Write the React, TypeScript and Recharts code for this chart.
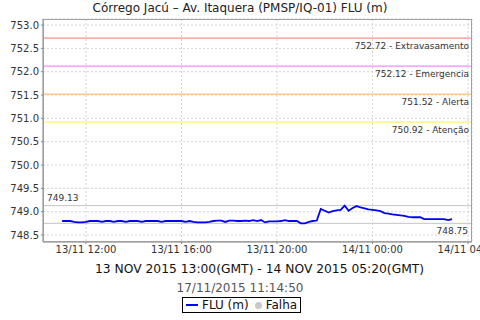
import React from "react";
import { CartesianGrid, Line, LineChart, ReferenceLine, XAxis, YAxis } from "recharts";

// FLU readings every 10 min, from 13/11 11:00 local (13:00 GMT) to 14/11 03:20
const START_HOUR = 11;
const STEP_MIN = 10;
const FLU = [
  748.8, 748.8, 748.8, 748.78, 748.77, 748.77, 748.78, 748.8, 748.8, 748.8,
  748.78, 748.8, 748.8, 748.78, 748.8, 748.8, 748.78, 748.8, 748.8, 748.8,
  748.78, 748.8, 748.8, 748.8, 748.8, 748.78, 748.8, 748.8, 748.8, 748.8,
  748.8, 748.78, 748.8, 748.78, 748.77, 748.77, 748.77, 748.78, 748.8, 748.81,
  748.81, 748.78, 748.81, 748.81, 748.8, 748.8, 748.81, 748.8, 748.82, 748.8,
  748.82, 748.77, 748.79, 748.79, 748.79, 748.8, 748.82, 748.8, 748.8, 748.8,
  748.75, 748.75, 748.78, 748.8, 748.81, 749.06, 749.02, 748.98, 749.01, 749.03,
  749.04, 749.13, 749.02, 749.08, 749.12, 749.09, 749.07, 749.05, 749.04, 749.03,
  749.01, 748.97, 748.96, 748.94, 748.93, 748.92, 748.91, 748.89, 748.88, 748.88,
  748.88, 748.84, 748.84, 748.84, 748.84, 748.84, 748.84, 748.82, 748.84
];

const THRESHOLD_VALUES = [752.72, 752.12, 751.52, 750.92];
const THRESHOLD_NAMES = ["Extravasamento", "Emergencia", "Alerta", "Atenção"];
const THRESHOLD_COLORS = ["#ff8c8c", "#ff88ff", "#ffbf73", "#fff07a"];

const MAX_VALUE = 749.13;
const MIN_VALUE = 748.75;

const X_TICKS = [12, 16, 20, 24, 28];
const Y_TICKS = [748.5, 749.0, 749.5, 750.0, 750.5, 751.0, 751.5, 752.0, 752.5, 753.0];

const FONT = "'DejaVu Sans', sans-serif";

const data = FLU.map((v, i) => ({ t: START_HOUR + (i * STEP_MIN) / 60, flu: v }));

const fmtTime = (h: number) => {
  const day = h >= 24 ? 14 : 13;
  const hh = Math.floor(h % 24);
  return `${day}/11 ${String(hh).padStart(2, "0")}:00`;
};

const thresholdLabel = (text: string) => (props: any) => {
  const vb = props.viewBox || {};
  return (
    <text x={vb.x + vb.width - 3} y={vb.y + 11} textAnchor="end" fontSize={9} fontFamily={FONT} fill="#333">
      {text}
    </text>
  );
};

const maxLabel = (props: any) => {
  const vb = props.viewBox || {};
  return (
    <text x={vb.x + 4} y={vb.y - 5} fontSize={9} fontFamily={FONT} fill="#333">
      {MAX_VALUE.toFixed(2)}
    </text>
  );
};

const minLabel = (props: any) => {
  const vb = props.viewBox || {};
  return (
    <text x={vb.x + vb.width - 4} y={vb.y + 11} textAnchor="end" fontSize={9} fontFamily={FONT} fill="#333">
      {MIN_VALUE.toFixed(2)}
    </text>
  );
};

export default function App() {
  return (
    <div style={{ position: "absolute", left: 0, top: 0, width: 480, height: 320, background: "#fff", fontFamily: FONT }}>
      <div style={{ position: "absolute", top: 0, width: 480, textAlign: "center", fontSize: 12, lineHeight: "16px", color: "#222" }}>
        Córrego Jacú – Av. Itaquera (PMSP/IQ-01) FLU (m)
      </div>
      <LineChart width={480} height={320} data={data} margin={{ top: 19, right: 8, bottom: 58, left: 0 }}>
        <CartesianGrid stroke="#d4d4d4" strokeDasharray="2 2" />
        <XAxis
          dataKey="t"
          type="number"
          domain={[10.199, 28.168]}
          ticks={X_TICKS}
          interval={0}
          tickFormatter={fmtTime}
          height={20}
          tickSize={2}
          stroke="#888"
          tick={{ fontSize: 10, fontFamily: FONT, fill: "#333" }}
          allowDataOverflow
        />
        <YAxis
          type="number"
          domain={[748.35, 753.13]}
          ticks={Y_TICKS}
          interval={0}
          tickFormatter={(v: number) => v.toFixed(1)}
          width={43}
          tickSize={2}
          stroke="#888"
          tick={{ fontSize: 10, fontFamily: FONT, fill: "#333" }}
          allowDataOverflow
        />
        {THRESHOLD_VALUES.map((v, i) => (
          <ReferenceLine
            key={v}
            y={v}
            stroke={THRESHOLD_COLORS[i]}
            strokeWidth={1.2}
            label={thresholdLabel(`${v.toFixed(2)} - ${THRESHOLD_NAMES[i]}`)}
          />
        ))}
        <ReferenceLine y={MAX_VALUE} stroke="#c4c4c4" label={maxLabel} />
        <ReferenceLine y={MIN_VALUE} stroke="#c4c4c4" label={minLabel} />
        <Line dataKey="flu" stroke="#0000ff" strokeWidth={1.8} dot={false} isAnimationActive={false} />
      </LineChart>
      <div style={{ position: "absolute", left: 43, top: 19, width: 429, height: 223, border: "1px solid #a0a0a0", boxSizing: "border-box", pointerEvents: "none" }} />
      <div style={{ position: "absolute", top: 261, left: 95, whiteSpace: "nowrap", fontSize: 12.3, lineHeight: "16px", color: "#111" }}>
        13 NOV 2015 13:00(GMT) - 14 NOV 2015 05:20(GMT)
      </div>
      <div style={{ position: "absolute", top: 280, width: 480, textAlign: "center", fontSize: 12, lineHeight: "16px", color: "#555" }}>
        17/11/2015 11:14:50
      </div>
      <div style={{ position: "absolute", top: 297, left: 182, height: 16, boxSizing: "border-box", border: "1px solid #000", display: "flex", alignItems: "center", padding: "0 3px", fontSize: 12, color: "#111" }}>
        <span style={{ display: "inline-block", width: 12, height: 2, background: "#0000ff", marginRight: 4 }} />
        <span>FLU (m)</span>
        <span style={{ display: "inline-block", width: 7, height: 7, borderRadius: "50%", background: "#c8c8c8", margin: "0 4px 0 6px" }} />
        <span>Falha</span>
      </div>
    </div>
  );
}
